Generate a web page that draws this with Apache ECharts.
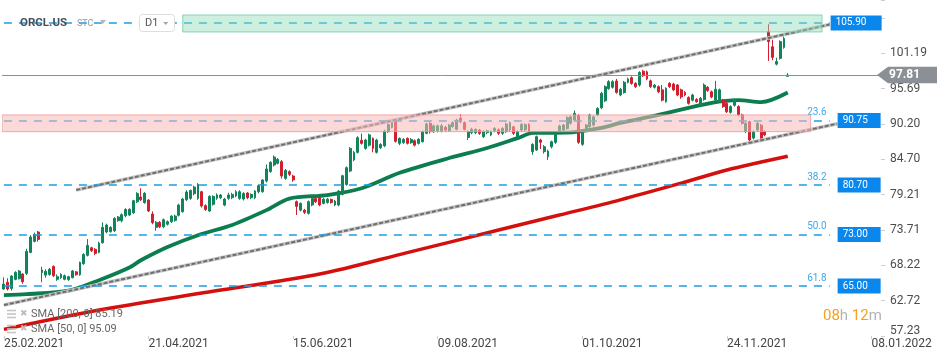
<!DOCTYPE html>
<html><head><meta charset="utf-8">
<script src="https://cdn.jsdelivr.net/npm/echarts@6.0.0/dist/echarts.min.js"></script>
<style>html,body{margin:0;padding:0;background:#fff;}#c{width:950px;height:361px;}</style>
</head><body><div id="c"></div>
<script>
// ---------- data ----------
const slotCount = 231;                      // trading-day slots incl. future space
const categories = Array.from({length: slotCount}, (_, i) => String(i));
const xTickLabels = ['25.02.2021','21.04.2021','15.06.2021','09.08.2021','01.10.2021','24.11.2021','08.01.2022'];
const xTickStep = 38;
const yTickLabels = ['57.23','62.72','68.22','73.71','79.21','84.70','90.20','95.69','101.19'];
const yMin = 57.23, yMax = 109.47, yStep = 5.495;

// [open, close, low, high]
const ohlc = [
[64.53,65.31,64.4,66.35],[65.57,64.53,64.3,66.2],[64.63,66.55,64.3,66.7],[66.03,67.12,65.9,67.3],[66.14,67.33,66.0,67.5],
[66.86,65.67,65.36,67.0],[66.97,70.39,66.7,70.8],[70.23,72.62,70.1,72.9],[71.94,73.03,71.8,73.3],[73.40,72.25,71.9,73.55],
[67.07,67.49,65.6,68.0],[66.7,67.3,66.3,67.6],[66.8,67.6,66.6,67.8],[68.05,66.6,66.4,68.2],[66.04,66.45,65.8,66.8],
[66.3,66.8,66.1,67.0],[66.04,66.6,65.9,66.8],[66.0,66.45,65.8,66.6],[66.3,67.33,66.2,67.5],[67.2,66.76,66.6,67.3],
[66.76,68.68,66.6,68.8],[68.47,69.92,68.3,70.1],[69.77,71.32,69.6,72.3],[70.95,70.5,70.3,71.1],[70.7,70.07,69.8,70.9],
[70.23,71.68,70.1,71.9],[71.73,74.12,71.6,74.9],[73.4,74.48,73.2,74.7],[73.45,74.12,73.3,74.3],[73.6,75.52,73.4,75.7],
[75.16,75.73,75.0,75.9],[75.16,76.09,74.9,76.3],[75.93,76.9,75.7,77.1],[76.04,76.92,75.9,77.1],[76.4,78.27,76.2,78.4],
[78.1,79.4,77.9,79.6],[78.83,78.42,78.2,80.2],[77.96,79.41,77.8,79.6],[78.37,76.66,76.5,78.5],[76.2,74.85,74.6,76.6],
[74.12,74.9,73.6,75.1],[74.9,74.2,74.0,75.1],[74.2,75.3,74.0,75.5],[74.6,75.0,74.4,75.2],[75.0,75.88,74.8,76.0],
[75.2,75.88,75.0,76.1],[75.99,77.59,75.8,77.8],[76.56,78.53,76.4,78.7],[78.42,79.61,78.2,79.9],[78.63,79.87,78.4,80.0],
[79.35,80.39,79.1,80.6],[78.63,80.8,78.4,81.0],[79.66,77.44,77.2,79.8],[77.5,76.9,76.7,77.7],[76.66,78.94,76.5,79.1],
[77.7,78.94,77.5,79.1],[78.63,79.15,78.4,79.4],[78.73,79.15,78.5,79.3],[77.59,78.53,77.4,78.7],[78.63,79.15,78.4,79.5],
[78.73,79.25,78.5,79.5],[79.0,79.66,78.8,79.9],[78.63,79.66,78.4,79.9],[78.53,79.4,78.3,79.6],[79.46,78.73,78.5,79.6],
[78.73,79.25,78.5,79.4],[78.73,79.77,78.5,79.9],[79.66,80.6,79.4,80.8],[79.67,81.48,79.5,81.6],[81.33,83.2,81.1,83.9],
[82.8,84.23,82.6,84.4],[83.81,85.06,83.6,85.3],[84.07,84.7,83.9,84.9],[84.33,82.1,81.7,84.6],[81.74,82.98,81.5,83.2],
[82.78,82.36,82.1,83.0],[82.1,81.5,81.2,82.3],[78.11,77.39,76.04,78.3],[76.8,77.85,76.6,78.0],[76.8,76.45,76.2,77.0],
[76.3,78.11,76.1,78.3],[77.6,78.6,77.4,78.8],[78.6,78.1,77.9,78.8],[78.73,77.6,77.4,78.9],[77.85,78.5,77.7,78.7],
[78.0,78.5,77.8,78.7],[78.47,78.0,77.8,78.6],[77.6,78.2,77.4,78.4],[77.6,79.77,77.4,79.9],[79.25,82.15,79.1,82.3],
[80.8,83.4,80.6,83.6],[82.88,86.4,82.7,86.6],[84.6,85.78,84.4,86.0],[85.78,88.06,85.6,88.3],[87.65,87.18,87.0,88.7],
[86.4,87.7,86.2,87.9],[86.9,88.5,86.7,88.7],[87.96,86.4,85.8,88.1],[85.78,87.7,85.6,87.9],[86.5,87.0,86.3,87.2],
[86.8,89.1,86.6,89.3],[89.0,90.1,88.8,90.3],[89.67,90.7,89.5,90.9],[90.6,87.5,87.3,90.8],[87.18,87.96,86.9,88.1],
[87.3,87.8,87.1,88.0],[87.96,87.18,87.0,88.1],[87.28,87.8,87.1,88.0],[87.6,86.9,86.7,87.8],[87.18,87.8,87.0,88.0],
[87.44,89.0,87.3,89.2],[88.74,90.2,88.6,90.4],[90.29,89.0,88.7,90.5],[89.0,89.9,88.8,90.1],[89.1,89.9,88.9,90.1],
[89.1,89.9,88.9,90.2],[89.67,89.26,89.0,89.9],[89.15,90.03,89.0,90.2],[89.8,90.4,89.6,90.6],[89.36,90.8,89.2,91.0],
[91.07,90.55,90.3,91.7],[90.4,89.36,89.2,90.6],[88.1,89.0,87.7,89.2],[88.84,89.36,88.6,89.6],[88.84,89.36,88.6,89.5],
[89.26,88.74,88.5,89.4],[88.22,89.0,88.0,89.2],[88.84,89.15,88.6,89.3],[88.5,89.0,88.3,89.2],[89.15,89.5,88.9,89.7],
[89.3,88.74,88.5,89.5],[88.74,89.5,88.5,89.7],[89.0,90.2,88.8,90.4],[89.26,90.4,89.0,90.6],[89.75,88.74,88.5,89.9],
[88.1,89.0,87.8,89.2],[89.26,90.14,89.0,90.3],[89.3,90.1,89.1,90.3],[90.14,89.1,88.9,90.3],[85.89,87.03,85.4,87.2],
[86.15,88.22,86.0,88.4],[87.7,87.34,86.3,87.9],[85.89,86.66,85.6,86.9],[85.1,85.99,84.6,86.2],[86.66,87.44,86.4,87.6],
[87.34,88.58,87.1,88.8],[89.1,89.88,88.9,90.1],[89.26,90.03,89.0,90.2],[89.5,91.2,89.3,91.4],[90.3,91.3,90.1,91.5],
[90.8,91.85,90.6,92.3],[91.5,87.34,87.1,91.7],[87.03,89.0,86.8,89.2],[89.26,90.03,89.0,90.2],[89.8,91.6,89.6,91.8],
[90.03,91.3,89.8,91.5],[91.6,92.6,91.4,92.8],[92.7,94.96,92.5,95.2],[93.8,96.0,93.6,96.2],[95.7,96.77,95.5,97.0],
[95.9,96.77,95.7,97.0],[96.88,95.1,94.9,97.2],[94.7,95.6,94.5,95.8],[95.1,96.67,94.9,96.9],[96.67,97.2,96.5,97.4],
[97.4,96.5,96.3,97.6],[96.5,96.0,95.8,96.7],[96.25,98.2,96.0,98.4],[98.4,97.7,97.5,98.6],[98.3,97.2,97.0,98.5],
[96.9,96.0,95.8,97.1],[95.9,96.25,95.7,96.4],[96.0,95.2,95.0,96.2],[95.5,93.9,93.7,96.25],[93.66,95.73,93.5,95.9],
[96.5,96.0,95.8,96.7],[96.4,95.5,95.3,96.6],[96.25,94.7,94.5,96.4],[95.5,94.4,94.1,95.7],[95.1,94.7,94.5,95.3],
[94.3,93.4,93.2,94.5],[93.9,94.7,93.7,94.9],[94.0,93.66,93.5,94.2],[93.1,94.2,92.9,94.4],[94.0,96.25,93.8,96.5],
[95.9,95.4,95.2,96.1],[95.2,94.4,94.2,95.4],[93.9,95.6,93.7,96.9],[93.66,95.5,93.5,95.7],[93.9,92.9,92.7,94.1],
[93.4,92.1,91.9,93.6],[92.0,92.9,91.8,93.1],[93.1,94.0,92.9,94.2],[92.9,91.6,91.4,93.1],[91.6,90.3,90.1,91.8],
[89.0,90.3,88.8,90.5],[90.55,87.7,87.3,90.7],[88.0,89.0,87.8,89.2],[89.25,90.3,89.0,90.5],[90.0,87.96,87.5,90.2],
[89.0,88.5,88.3,89.2],[104.55,103.0,100.0,105.7],[102.2,100.55,100.1,103.3],[99.5,99.9,99.3,100.5],[100.4,103.0,100.2,103.2],
[102.1,103.5,101.9,103.8],[97.6,97.81,97.5,98.1]
];

// moving averages: [slot, value]
const sma200 = [[0,58.26],[25,61.26],[52,63.9],[83,66.86],[106,70.2],[130,73.7],[146,76.04],[162,78.4],[178,81.0],[190,83.04],[199,84.28],[206,85.19]];
const sma50 = [[0,63.6],[6,63.75],[17,64.27],[25,65.9],[33,67.87],[36,69.0],[43,71.06],[51,72.9],[60,74.5],[69,76.8],[75,78.6],[85,79.15],[94,80.2],[104,82.6],[117,84.9],[127,86.46],[135,88.0],[139,88.8],[148,88.85],[157,89.6],[162,90.35],[172,91.6],[186,93.47],[193,93.9],[199,93.6],[206,95.09]];

// trend channel [slot, value]
const channelUpper = [[19,79.93],[217,105.65]];
const channelLower = [[0,62.04],[219,90.24]];

// horizontal levels
const levels = [105.90, 90.75, 80.70, 73.00, 65.00];
const levelLabels = ['105.90','90.75','80.70','73.00','65.00'];
const fibLabels = ['', '23.6', '38.2', '50.0', '61.8'];
const levelEndSlot = 217;
const lastPrice = 97.81;

// zones: [startSlot, low, high, endSlot]
const greenZone = [47, 104.50, 107.14, 215];
const pinkZone = [0, 89.00, 91.60, 212];

const legendTexts = ['SMA [200, 0] 85.19', 'SMA [50, 0] 95.09'];

// ---------- chart ----------
const FONT = 'Roboto, "Noto Sans", sans-serif';
const chart = echarts.init(document.getElementById('c'), null, {renderer: 'canvas'});

const channelSeries = [];
[channelUpper, channelLower].forEach(pts => {
  channelSeries.push({type:'line', data: pts, z: 4, symbol:'none', silent:true,
    lineStyle:{color:'#c4c4c4', width:3.5}});
  channelSeries.push({type:'line', data: pts, z: 4, symbol:'none', silent:true,
    lineStyle:{color:'#6e6e6e', width:2, type:[4,2]}});
});

const levelStyle = {type:[8,7], color:'#1a9ee8', width:1.5};
const markData = [];
levels.forEach((v, k) => {
  markData.push([
    {coord:[0, v], lineStyle: levelStyle,
     label:{show:true, position:'end', formatter: levelLabels[k], distance: k === 0 ? 1 : 8,
            backgroundColor:'#0a87ec', color:'#fff', fontSize:10, fontFamily:FONT,
            padding:[2,0,2,5], width: k === 0 ? 46 : 38, lineHeight:11}},
    {coord:[levelEndSlot, v]}
  ]);
  if (fibLabels[k]) {
    markData.push([
      {coord:[0, v], lineStyle:{color:'rgba(0,0,0,0)', width:0.1, type:'solid'},
       label:{show:true, position:'insideEndTop', formatter: fibLabels[k], distance:3,
              color:'#3aa9ec', fontSize:10, fontFamily:FONT}},
      {coord:[levelEndSlot, v]}
    ]);
  }
});
markData.push({yAxis: lastPrice, lineStyle:{type:'solid', color:'#8a8f94', width:1}, label:{show:false}});

const option = {
  animation: false,
  textStyle: {fontFamily: FONT},
  grid: {left: 2, right: 69, top: 0, bottom: 25, containLabel: false, outerBoundsMode: 'none'},
  xAxis: {
    type: 'category', data: categories, boundaryGap: true,
    axisLine: {show: false},
    axisTick: {show: true, alignWithLabel: true, length: 3, interval: (i) => i % xTickStep === 0,
               lineStyle: {color: '#cfcfcf'}},
    axisLabel: {interval: (i) => i % xTickStep === 0, align: 'left', margin: 2,
                color: '#454545', fontSize: 12, fontFamily: FONT,
                formatter: (v) => xTickLabels[Number(v) / xTickStep] || ''},
    splitLine: {show: false}
  },
  yAxis: {
    type: 'value', position: 'right', min: yMin, max: yMax, interval: yStep, scale: true,
    axisLine: {show: false},
    axisTick: {show: true, length: 4, lineStyle: {color: '#cfcfcf'}},
    splitLine: {show: false},
    axisLabel: {margin: 9, color: '#4d4d4d', fontSize: 12, fontFamily: FONT,
      formatter: (val) => {
        const k = Math.round((val - yMin) / yStep);
        if (Math.abs(val - (yMin + k * yStep)) > 0.01) return '';
        const t = yTickLabels[k];
        if (!t) return '';
        return k === 0 ? '{lo|' + t + '}' : t;
      },
      rich: {lo: {padding: [0,0,11,0], fontSize: 12, color: '#4d4d4d', fontFamily: FONT}}
    }
  },
  series: [
    {type:'line', data: sma200, z: 2, symbol:'none', smooth: 0.3, silent:true,
     lineStyle:{color:'#d4100f', width:3.5}},
    {type:'line', data: sma50, z: 2, symbol:'none', smooth: 0.3, silent:true,
     lineStyle:{color:'#0b7d4e', width:3.8}},
    {type:'candlestick', data: ohlc, z: 3, barWidth: 2.4, silent: true,
     itemStyle:{color:'#12845a', color0:'#d11f2d', borderColor:'#12845a', borderColor0:'#d11f2d', borderWidth:1}},
    ...channelSeries,
    {type:'line', data: [], silent: true,
     markLine: {symbol:['none','none'], silent: true, animation:false, data: markData}},
    {type:'custom', z: 8, silent: true, clip: true,
     data: [greenZone, pinkZone],
     encode: {x: [0, 3], y: [1, 2]},
     renderItem: (params, api) => {
       const s = api.value(0), lo = api.value(1), hi = api.value(2), e = api.value(3);
       const a = api.coord([s, hi]);
       const b = api.coord([e, lo]);
       const left = s === 0 ? params.coordSys.x : a[0];
       const green = params.dataIndex === 0;
       return {type:'rect', shape:{x:left, y:a[1], width:b[0]-left, height:b[1]-a[1]},
               style:{fill: green ? 'rgba(145,220,185,0.45)' : 'rgba(250,185,185,0.55)',
                      stroke: green ? 'rgba(110,205,160,0.8)' : 'rgba(240,150,150,0.8)', lineWidth:1}};
     }}
  ]
};
chart.setOption(option);

// ---------- annotations ----------
const py = chart.convertToPixel({yAxisIndex: 0}, lastPrice);
const g = [
  {id:'title', type:'text', x:20, y:23, z:100, style:{text:'ORCL.US', font:'bold 11.5px ' + FONT, fill:'#43515c', verticalAlign:'middle'}},
  {id:'stc', type:'text', x:77, y:24, z:100, style:{text:'STC', font:'9px ' + FONT, fill:'#8c9aa6', verticalAlign:'middle'}},
  {id:'tri1', type:'polygon', z:100, shape:{points:[[100,20],[106,20],[103,24]]}, style:{fill:'#b5b5b5'}},
  {id:'d1box', type:'rect', z:100, shape:{x:139.5, y:14.5, width:35, height:17, r:3}, style:{fill:'#fff', stroke:'#dedede', lineWidth:1}},
  {id:'d1', type:'text', x:145, y:23, z:101, style:{text:'D1', font:'11px ' + FONT, fill:'#555', verticalAlign:'middle'}},
  {id:'tri2', type:'polygon', z:101, shape:{points:[[163,22],[168.5,22],[165.75,25]]}, style:{fill:'#aaa'}},
  {id:'count', type:'text', x:823, y:316, z:100, style:{text:'{o|08}{g|h} {o|12}{g|m}', verticalAlign:'middle',
     font:'15px ' + FONT, rich:{o:{fill:'#f5a21d', font:'15px ' + FONT}, g:{fill:'#b3b3b3', font:'15px ' + FONT}}}},
  {id:'tag', type:'polygon', z:100, shape:{points:[[877,py],[888,py-8.3],[937,py-8.3],[937,py+8.3],[888,py+8.3]]}, style:{fill:'#8a9096'}},
  {id:'tagtext', type:'text', x:889, y:py, z:101, style:{text: lastPrice.toFixed(2), font:'bold 12px ' + FONT, fill:'#fff', verticalAlign:'middle'}}
];
legendTexts.forEach((t, k) => {
  const cy = 314 + k * 15;
  [-3.5, 0, 3.5].forEach((d, j) => g.push({id:'lg' + k + '_' + j, type:'rect', z:100,
     shape:{x:7, y:cy + d - 0.8, width:9, height:1.6}, style:{fill:'#c5c5c5'}}));
  g.push({id:'lx' + k, type:'text', x:20, y:cy, z:100, style:{text:'✖', font:'9px "DejaVu Sans"', fill:'#bdbdbd', verticalAlign:'middle'}});
  g.push({id:'lt' + k, type:'text', x:31, y:cy, z:100, style:{text:t, font:'11px ' + FONT, fill:'#666', verticalAlign:'middle'}});
});
chart.setOption({graphic: g});
</script>
</body></html>
